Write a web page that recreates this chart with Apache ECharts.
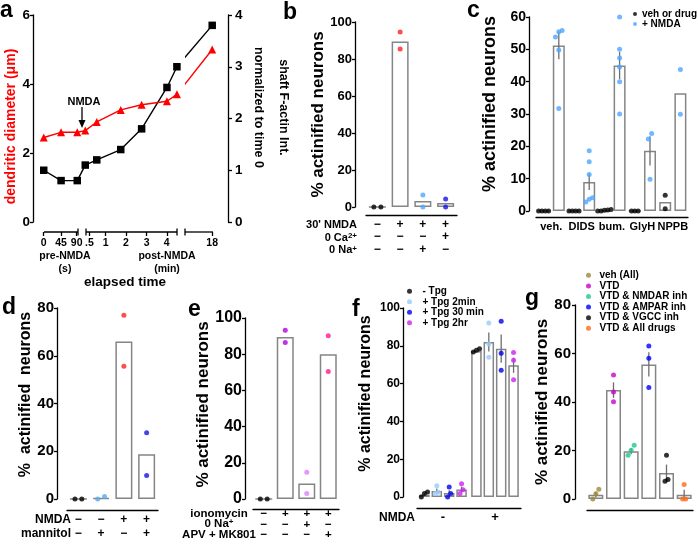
<!DOCTYPE html>
<html><head><meta charset="utf-8">
<script src="https://cdn.jsdelivr.net/npm/echarts@6/dist/echarts.min.js"></script>
<style>html,body{margin:0;padding:0;background:#fff}#c{width:698px;height:545px}</style>
</head><body><div id="c"></div>
<script>
const F = '"Liberation Sans", Arial, Helvetica, sans-serif';

// ---------- panel a ----------
const aTickLabels = ['0','45','90','.5','1','2','3','4','18'];
const aTickPos = [0.55,1.44,2.24,2.89,3.73,4.77,5.83,6.86,9.19];
const aPointPos = [0.55,1.44,2.27,2.68,3.27,4.5,5.57,6.87,7.38,9.19];
const aDiameter = [2.45,2.6,2.6,2.65,2.9,3.25,3.4,3.5,3.7,5.0];
const aActin = [1.0,0.8,0.8,1.1,1.2,1.4,1.8,2.6,3.0,3.8];

// ---------- panel b ----------
const bRowNames = ["30' NMDA", '0 Ca{sup|2+}', '0 Na{sup|+}'];
const bSigns = [['−','+','+','+'],['−','−','−','+'],['−','−','+','−']];
const bMeans = [0, 89.5, 3.2, 2.2];
const bPoints = [[0,0],[94.6,85.4],[6.5,0],[4.3,0]];
const bColors = ['#000','#ff1f1f','#4da6ff','#1515e6'];

// ---------- panel c ----------
const cCats = ['veh.','DIDS','bum.','GlyH','NPPB'];
const cSeriesNames = ['veh or drug','+ NMDA'];
const cDrugMeans = [0,0,0,0,2.8];
const cNmdaMeans = [51.2,9.0,45.0,18.6,36.4];
const cNmdaSem = [4.3,2.5,4.2,4.5,0];
const cDrugPoints = [[0,0,0,0],[0,0,0,0],[0,0,0.3,0.5,0.2],[0,0,0],[4.9,0.7]];
const cNmdaPoints = [[55.8,55.4,53.8,49.8,31.7],[18.6,15.2,11.3,4.1,3.6,2.8],[60,50,47.3,44.5,40,30],[24,22.3,9.8],[43.8,29.9]];
const cColors = ['#000','#4da6ff'];

// ---------- panel d ----------
const dRowNames = ['NMDA','mannitol'];
const dSigns = [['−','−','+','+'],['−','+','−','+']];
const dMeans = [0,0.5,66,18.7];
const dPoints = [[0,0],[0,1],[77,55.6],[27.7,9.8]];
const dColors = ['#000','#5aaaf0','#ff1f1f','#1515e6'];

// ---------- panel e ----------
const eRowNames = ['ionomycin','0 Na{sup|+}','APV + MK801'];
const eSigns = [['−','+','+','+'],['−','−','+','−'],['−','−','−','+']];
const eMeans = [0,89.5,8.5,80];
const ePoints = [[0,0],[93.3,86.5],[14.8,3.1],[90.2,70.4]];
const eColors = ['#000','#b000e0','#e07dfa','#ff1a8c'];

// ---------- panel f ----------
const fCats = ['-','+'];
const fSeriesNames = ['- Tpg','+ Tpg 2min','+ Tpg 30 min','+ Tpg 2hr'];
const fMeans = [[1.2,3.2,2.1,4.0],[77.2,82,78.5,69.7]];
const fSem = [[0.8,1.3,1.5,1.5],[0,5,7.5,4]];
const fPoints = [
  [[0,2.6,1.8],[6,2.5,1.8],[5.3,1.8,0],[7,3.9,1.8]],
  [[78.5,77.6,76.7],[92,81,74],[93,76,67],[76.4,72.3,62]]
];
const fColors = ['#000','#99ccff','#0000ee','#cc22ee'];

// ---------- panel g ----------
const gNames = ['veh (All)','VTD','VTD & NMDAR inh','VTD & AMPAR inh','VTD & VGCC inh','VTD & All drugs'];
const gMeans = [1.8,44.9,19.7,55.5,10.7,1.8];
const gSem = [1.2,3.2,1.2,5,3.5,2];
const gPoints = [[4,2.2,0],[51.1,44.1,40.1],[22.2,20.1,18],[63.1,58,46],[18,8,7.3],[6,0,0]];
const gColors = ['#9c8a3a','#cc00cc','#20c88a','#0000ff','#000','#ff6a1a'];

// ---------- builders ----------
const grids=[], xAxes=[], yAxes=[], series=[], legends=[], visualMaps=[], graphics=[];
const LINE = {color:'#000', width:1.3};
function grid(l,t,w,h){ grids.push({left:l,top:t,width:w,height:h,containLabel:false,outerBoundsMode:'none'}); return grids.length-1; }
function yAxis(gi,o){
  yAxes.push({type:'value',gridIndex:gi,min:o.min,max:o.max,interval:o.interval,position:o.position||'left',offset:o.offset||0,
    axisLine:{show:true,onZero:false,lineStyle:LINE},
    axisTick:{show:true,inside:false,length:o.tick||3,lineStyle:LINE},
    axisLabel:{show:true,color:'#000',fontFamily:F,fontWeight:'bold',fontSize:o.labelSize,margin:o.margin==null?3:o.margin},
    splitLine:{show:false},
    name:o.name,nameLocation:'middle',nameGap:o.nameGap,nameRotate:o.nameRotate==null?90:o.nameRotate,
    nameTextStyle:{color:o.nameColor||'#000',fontFamily:F,fontWeight:'bold',fontSize:o.nameSize,lineHeight:o.nameLineHeight,padding:o.namePad||0}});
  return yAxes.length-1;
}
function xValue(gi,min,max){ xAxes.push({type:'value',gridIndex:gi,min,max,show:false,axisLine:{onZero:false}}); return xAxes.length-1; }
function xCategory(gi,data,o){
  xAxes.push({type:'category',gridIndex:gi,data,position:'bottom',offset:o.offset,
    axisLine:{show:true,onZero:false,lineStyle:LINE},axisTick:{show:false},
    axisLabel:{show:o.show!==false,interval:0,color:'#000',fontFamily:F,fontWeight:'bold',fontSize:o.fontSize,lineHeight:o.lineHeight,margin:o.margin,formatter:o.formatter},
    splitLine:{show:false}});
  return xAxes.length-1;
}
function spread(vals,thr,d){
  const idx = vals.map((v,i)=>i).sort((a,b)=>vals[a]-vals[b]);
  const off = new Array(vals.length).fill(0);
  let s = 0;
  for(let k=1;k<=idx.length;k++){
    if(k===idx.length || vals[idx[k]]-vals[idx[k-1]]>thr){
      const m=k-s;
      for(let j=s;j<k;j++) off[idx[j]]=(j-s-(m-1)/2)*d;
      s=k;
    }
  }
  return off;
}
function bars(xi,yi,data,w){
  series.push({type:'bar',xAxisIndex:xi,yAxisIndex:yi,data,barWidth:w,clip:false,silent:true,z:2,
    itemStyle:{color:'#fff',borderColor:'#858585',borderWidth:1.5}});
}
function errs(xi,yi,rows){
  series.push({type:'custom',xAxisIndex:xi,yAxisIndex:yi,data:rows,encode:{x:0,y:[1,2]},clip:false,silent:true,z:3,
    renderItem:(p,api)=>{ const a=api.coord([api.value(0),api.value(1)]), b=api.coord([api.value(0),api.value(2)]);
      return {type:'line',shape:{x1:a[0],y1:a[1],x2:b[0],y2:b[1]},style:{stroke:'#6e6e6e',lineWidth:1.3}}; }});
}
function dots(xi,yi,name,data,color){
  const s={type:'scatter',name,xAxisIndex:xi,yAxisIndex:yi,data,symbol:'circle',symbolSize:5,clip:false,silent:true,z:4};
  if(color) s.itemStyle={color};
  series.push(s);
}
function txt(x,y,text,size,o){
  o=o||{};
  return {type:'text',x,y,silent:true,z:10,style:{text,fill:o.color||'#000',fontFamily:F,fontWeight:'bold',fontSize:size,
    align:o.align||'center',textAlign:o.align||'center',verticalAlign:'middle',textVerticalAlign:'middle',
    rich:{sup:{fontFamily:F,fontWeight:'bold',fontSize:Math.round(size*0.7),fill:o.color||'#000',verticalAlign:'top'}}}};
}
function line(x1,y1,x2,y2){ return {type:'line',silent:true,shape:{x1,y1,x2,y2},style:{stroke:'#000',lineWidth:1.3}}; }
const LEG_TEXT = {fontFamily:F,fontWeight:'bold',fontSize:10,color:'#000'};

// ---------- panel a ----------
const gA = grid(33,15,195,207);
xAxes.push({type:'value',gridIndex:gA,min:0,max:10,offset:10,position:'bottom',
  axisLine:{show:false,onZero:false},
  axisTick:{show:true,customValues:aTickPos,length:4,lineStyle:LINE},
  axisLabel:{show:true,customValues:aTickPos,color:'#000',fontFamily:F,fontWeight:'bold',fontSize:10.5,margin:6,
    formatter:v=>{ let bi=0; aTickPos.forEach((p,i)=>{ if(Math.abs(p-v)<Math.abs(aTickPos[bi]-v)) bi=i; }); return aTickLabels[bi]; }},
  splitLine:{show:false}});
const xA = xAxes.length-1;
const yAL = yAxis(gA,{min:0,max:6,interval:2,labelSize:13.5,name:'dendritic diameter (μm)',nameColor:'#ff0000',nameSize:14,nameGap:15,namePad:[0,16,0,0]});
const yAR = yAxis(gA,{min:0,max:4,interval:1,position:'right',labelSize:13.5,margin:7,tick:4,name:'shaft F-actin Int.\nnormalized to time 0',nameRotate:-90,nameSize:12.5,nameLineHeight:25,nameGap:14,namePad:[0,22,0,0]});
series.push({type:'line',name:'a-actin',xAxisIndex:xA,yAxisIndex:yAR,data:aPointPos.map((x,i)=>[x,aActin[i]]),
  symbol:'rect',symbolSize:7.5,lineStyle:{width:1.4},itemStyle:{color:'#000'},z:5,silent:true,clip:false});
visualMaps.push({type:'piecewise',show:false,dimension:0,seriesIndex:series.length-1,
  pieces:[{lt:7.45,color:'#000'},{gte:7.45,lt:7.79,color:'rgba(0,0,0,0)'},{gte:7.79,color:'#000'}]});
series.push({type:'line',name:'a-diam',xAxisIndex:xA,yAxisIndex:yAL,data:aPointPos.map((x,i)=>[x,aDiameter[i]]),
  symbol:'triangle',symbolSize:8,lineStyle:{width:1.4},itemStyle:{color:'#ff0000'},z:5,silent:true,clip:false});
visualMaps.push({type:'piecewise',show:false,dimension:0,seriesIndex:series.length-1,
  pieces:[{lt:7.45,color:'#ff0000'},{gte:7.45,lt:7.79,color:'rgba(255,0,0,0)'},{gte:7.79,color:'#ff0000'}]});
graphics.push(
  line(44,232,78,232), line(78,228.5,78,235.5),
  line(86,232,177,232), line(86,228.5,86,235.5), line(177,228.5,177,235.5),
  line(185,232,213,232), line(185,228.5,185,235.5),
  txt(84,101.5,'NMDA',11),
  line(82,107,82,124),
  {type:'polygon',silent:true,shape:{points:[[78.5,120],[85.5,120],[82,128]]},style:{fill:'#000'}},
  txt(65,256,'pre-NMDA',10.5), txt(65,269,'(s)',10.5),
  txt(167,256,'post-NMDA',10.5), txt(167,269,'(min)',10.5),
  txt(125,282,'elapsed time',13.5)
);

// ---------- panel b ----------
const gB = grid(366,22,91,185);
xCategory(gB,['1','2','3','4'],{offset:8,fontSize:12,lineHeight:12.5,margin:3,formatter:(v,i)=>bSigns.map(r=>r[i]).join('\n')});
const xB = xValue(gB,-0.5,3.5);
const yB = yAxis(gB,{min:0,max:100,interval:20,offset:11,labelSize:13,name:'% actinified neurons',nameSize:17,nameGap:28});
bars(xB,yB,bMeans.map((v,i)=>[i,v]),17);
dots(xB,yB,'b-dots',bPoints.flatMap((ps,i)=>{const o=spread(ps,2,0.31);return ps.map((v,j)=>({value:[i+o[j],v],itemStyle:{color:bColors[i]}}));}));
bRowNames.forEach((t,r)=>graphics.push(txt(357,225+r*12.5,t,11,{align:'right'})));

// ---------- panel c ----------
const gC = grid(536,17,152,194);
xCategory(gC,cCats,{offset:6,fontSize:11,margin:4});
const xC = xValue(gC,-0.5,4.5);
const yC = yAxis(gC,{min:0,max:60,interval:10,offset:7,labelSize:14,name:'% actinified neurons',nameSize:18,nameGap:30,namePad:[0,0,0,20]});
bars(xC,yC,cDrugMeans.map((v,i)=>[i-0.25,v]).concat(cNmdaMeans.map((v,i)=>[i+0.25,v])),12);
errs(xC,yC,cNmdaMeans.map((v,i)=>[i+0.25,v-cNmdaSem[i],v+cNmdaSem[i]]).filter((r,i)=>cNmdaSem[i]>0));
dots(xC,yC,cSeriesNames[0],cDrugPoints.flatMap((ps,i)=>{const o=spread(ps,1.5,0.11);return ps.map((v,j)=>[i-0.25+o[j],v]);}),cColors[0]);
dots(xC,yC,cSeriesNames[1],cNmdaPoints.flatMap((ps,i)=>{const o=spread(ps,2,0.11);return ps.map((v,j)=>[i+0.25+o[j],v]);}),cColors[1]);
legends.push({data:cSeriesNames,left:633,top:9,orient:'vertical',icon:'circle',itemWidth:4,itemHeight:4,itemGap:0,padding:0,selectedMode:false,
  textStyle:Object.assign({lineHeight:10},LEG_TEXT)});

// ---------- panel d ----------
const gD = grid(67,308,91,191);
xCategory(gD,['1','2','3','4'],{offset:11,fontSize:12,lineHeight:14,margin:3,formatter:(v,i)=>dSigns.map(r=>r[i]).join('\n')});
const xD = xValue(gD,-0.5,3.5);
const yD = yAxis(gD,{min:0,max:80,interval:20,offset:10,labelSize:15,name:'%  actinified  neurons',nameSize:16,nameGap:22,namePad:[0,0,0,18]});
bars(xD,yD,dMeans.map((v,i)=>[i,v]),17);
dots(xD,yD,'d-dots',dPoints.flatMap((ps,i)=>{const o=spread(ps,2,0.3);return ps.map((v,j)=>({value:[i+o[j],v],itemStyle:{color:dColors[i]}}));}));
dRowNames.forEach((t,r)=>graphics.push(txt(71,520+r*14,t,12,{align:'right'})));

// ---------- panel e ----------
const gE = grid(253,318,86,181);
xCategory(gE,['1','2','3','4'],{offset:10,fontSize:11.5,lineHeight:10.5,margin:0,formatter:(v,i)=>eSigns.map(r=>r[i]).join('\n')});
const xE = xValue(gE,-0.5,3.5);
const yE = yAxis(gE,{min:0,max:100,interval:20,offset:8,labelSize:16,name:'% actinified neurons',nameSize:17,nameGap:27,namePad:[0,0,0,8]});
bars(xE,yE,eMeans.map((v,i)=>[i,v]),17);
dots(xE,yE,'e-dots',ePoints.flatMap((ps,i)=>{const o=spread(ps,2,0.32);return ps.map((v,j)=>({value:[i+o[j],v],itemStyle:{color:eColors[i]}}));}));
eRowNames.forEach((t,r)=>graphics.push(txt(219,513.5+r*10.5,t,11.5)));

// ---------- panel f ----------
const gF = grid(417,308,104,189);
xCategory(gF,fCats,{offset:11,fontSize:13,margin:3});
const xF = xValue(gF,-0.5,1.5);
const yF = yAxis(gF,{min:0,max:100,interval:20,offset:14,labelSize:12,name:'% actinified neurons',nameSize:16,nameGap:29,namePad:[0,0,0,18]});
const fStep = 0.238;
bars(xF,yF,fMeans.flatMap((row,g)=>row.map((v,k)=>[g+(k-1.5)*fStep,v])),10.5);
errs(xF,yF,fMeans.flatMap((row,g)=>row.map((v,k)=>[g+(k-1.5)*fStep,v-fSem[g][k],v+fSem[g][k]])).filter(r=>r[2]-r[1]>0.01));
fSeriesNames.forEach((nm,k)=>{
  dots(xF,yF,nm,fPoints.flatMap((grp,g)=>{const ps=grp[k];const o=spread(ps,2.5,0.06);return ps.map((v,j)=>[g+(k-1.5)*fStep+o[j],v]);}),fColors[k]);
});
legends.push({data:fSeriesNames,left:407,top:286,orient:'vertical',icon:'circle',itemWidth:16,itemHeight:5,itemGap:0,padding:0,selectedMode:false,
  textStyle:Object.assign({lineHeight:10.5},LEG_TEXT)});
graphics.push(txt(415,517.5,'NMDA',12,{align:'right'}));

// ---------- panel g ----------
const gG = grid(587,305,106,194);
xCategory(gG,gNames,{offset:11,show:false,fontSize:10,margin:3});
const xG = xValue(gG,-0.5,5.5);
const yG = yAxis(gG,{min:0,max:80,interval:20,offset:12,labelSize:15,margin:4,name:'% actinified neurons',nameSize:17,nameGap:21});
bars(xG,yG,gMeans.map((v,i)=>[i,v]),15);
errs(xG,yG,gMeans.map((v,i)=>[i,v-gSem[i],v+gSem[i]]));
gNames.forEach((nm,i)=>{
  const o=spread(gPoints[i],2.5,0.17);
  dots(xG,yG,nm,gPoints[i].map((v,j)=>[i+o[j],v]),gColors[i]);
});
legends.push({data:gNames,left:586,top:270,orient:'vertical',icon:'circle',itemWidth:12,itemHeight:5,itemGap:0,padding:0,selectedMode:false,
  textStyle:Object.assign({lineHeight:10.6},LEG_TEXT)});

// ---------- panel letters ----------
[['a',0,10.3],['b',283,12.3],['c',467,10.3],['d',2,307.3],['e',188,309.3],['f',352,309.3],['g',525,298.3]]
  .forEach(([t,x,y])=>graphics.push(txt(x,y,t,23,{align:'left'})));

const chart = echarts.init(document.getElementById('c'),null,{renderer:'canvas'});
chart.setOption({
  animation:false,
  backgroundColor:'#fff',
  textStyle:{fontFamily:F},
  grid:grids, xAxis:xAxes, yAxis:yAxes, series, legend:legends, visualMap:visualMaps,
  graphic:{elements:graphics}
});
</script></body></html>
